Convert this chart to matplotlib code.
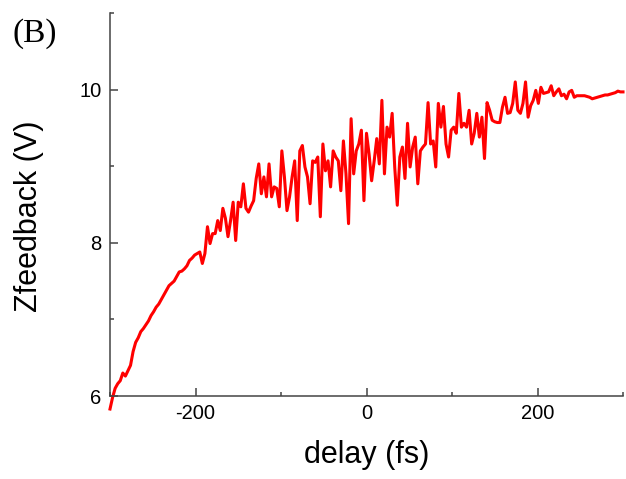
import numpy as np
import matplotlib
matplotlib.use("Agg")
import matplotlib.pyplot as plt
from matplotlib.ticker import MultipleLocator

plt.rcParams['font.family'] = ['Liberation Sans', 'DejaVu Sans']
plt.rcParams['axes.unicode_minus'] = False

# delay grid (fs), 3 fs steps from -300 to 300
delay = np.arange(-300, 301, 3)

# Z feedback voltage (V)
zfeedback = [
    5.83, 5.98, 6.10, 6.16, 6.20, 6.30, 6.26, 6.33, 6.40, 6.58,   # -300
    6.70, 6.76, 6.84, 6.88, 6.93, 6.98, 7.05, 7.10, 7.16, 7.20,   # -270
    7.26, 7.32, 7.38, 7.44, 7.47, 7.50, 7.56, 7.62, 7.63, 7.66,   # -240
    7.70, 7.77, 7.80, 7.84, 7.86, 7.88, 7.73, 7.86, 8.21, 7.99,   # -210
    8.12, 8.12, 8.29, 8.16, 8.45, 8.32, 8.08, 8.29, 8.53, 8.03,   # -180
    8.53, 8.47, 8.77, 8.45, 8.40, 8.48, 8.55, 8.84, 9.03, 8.64,   # -150
    8.86, 8.60, 9.03, 8.60, 8.73, 8.71, 8.47, 9.20, 8.86, 8.42,   # -120
    8.60, 8.86, 9.07, 8.29, 9.20, 9.27, 8.99, 8.86, 8.51, 9.07,   # -90
    9.05, 9.12, 8.34, 9.29, 8.94, 9.07, 8.73, 9.20, 9.12, 9.07,   # -60
    8.68, 9.33, 8.90, 8.25, 9.62, 8.90, 9.20, 9.29, 9.47, 8.55,   # -30
    9.43, 9.16, 8.81, 9.07, 9.36, 9.03, 9.86, 8.90, 9.51, 9.38,   # 0
    9.69, 8.99, 8.49, 9.12, 9.25, 8.84, 9.56, 8.99, 9.25, 9.38,   # 30
    8.77, 9.20, 9.25, 9.29, 9.83, 9.29, 9.33, 8.99, 9.82, 9.51,   # 60
    9.78, 9.29, 9.12, 9.47, 9.51, 9.43, 9.95, 9.51, 9.56, 9.51,   # 90
    9.73, 9.29, 9.43, 9.69, 9.38, 9.64, 9.10, 9.83, 9.73, 9.60,   # 120
    9.58, 9.57, 9.57, 9.77, 9.90, 9.69, 9.70, 9.82, 10.10, 9.73,  # 150
    9.69, 9.82, 10.10, 9.64, 9.79, 9.86, 9.99, 9.82, 10.03, 9.95, # 180
    9.96, 9.97, 10.05, 9.92, 9.97, 10.01, 9.92, 9.94, 9.88, 9.97, # 210
    9.99, 9.90, 9.92, 9.92, 9.92, 9.92, 9.91, 9.90, 9.88, 9.89,   # 240
    9.90, 9.91, 9.92, 9.93, 9.93, 9.94, 9.95, 9.96, 9.98, 9.97,   # 270
    9.97,                                                          # 300
]

fig = plt.figure(figsize=(6.26, 4.79), dpi=100)
ax = fig.add_axes([110 / 626, 1 - 396 / 479, 513 / 626, 383 / 479])

ax.plot(delay, zfeedback, color='#ff0000', lw=2.2, clip_on=False)

ax.set_xlim(-300, 300)
ax.set_ylim(6, 11)
ax.xaxis.set_major_locator(MultipleLocator(200))
ax.xaxis.set_minor_locator(MultipleLocator(100))
ax.yaxis.set_major_locator(MultipleLocator(2))
ax.yaxis.set_minor_locator(MultipleLocator(1))

for s in ['top', 'right']:
    ax.spines[s].set_visible(False)
for s in ['left', 'bottom']:
    ax.spines[s].set_color('#444444')
    ax.spines[s].set_linewidth(1.1)

ax.tick_params(which='major', direction='in', length=6, width=1.1,
               color='#444444', labelsize=14.5, pad=6)
ax.tick_params(which='minor', direction='in', length=3, width=1.1,
               color='#444444')

ax.set_xlabel('delay (fs)', fontsize=22)
ax.set_ylabel('Zfeedback (V)', fontsize=22)
ax.xaxis.set_label_coords(0.5, -0.115)
ax.yaxis.set_label_coords(-0.128, 0.47)

fig.text(12 / 626, 1 - 18 / 479, '(B)', fontsize=24, family='Liberation Serif',
         ha='left', va='top')

fig.savefig('out.png', dpi=100)
